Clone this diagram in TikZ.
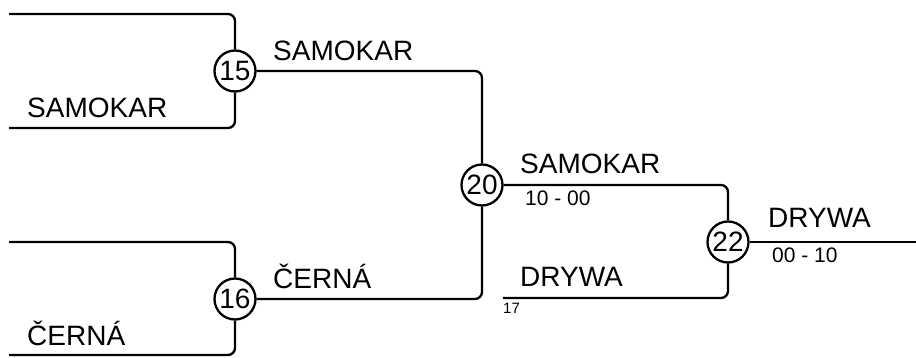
\documentclass[tikz,border=0pt]{standalone}
\usepackage{fontspec}
\setmainfont{Liberation Sans}
\begin{document}
\begin{tikzpicture}[x=1pt,y=-1pt,
  wire/.style={line width=2.3pt,rounded corners=7pt},
  match/.style={circle,draw,line width=2.3pt,minimum size=41pt,inner sep=0pt,font=\fontsize{28}{28}\selectfont},
  team/.style={anchor=base west,inner sep=0pt,font=\fontsize{28}{28}\selectfont},
  score/.style={anchor=base west,inner sep=0pt,font=\fontsize{21}{21}\selectfont},
  seed/.style={anchor=base west,inner sep=0pt,font=\fontsize{15}{15}\selectfont}]
\useasboundingbox (0,0) rectangle (916,358);
\node[match] (m15) at (235,71) {15};
\node[match] (m16) at (235,299) {16};
\node[match] (m20) at (482,185) {20};
\node[match] (m22) at (728,242) {22};
\coordinate (a15) at (9,14);
\coordinate (b15) at (9,128);
\coordinate (a16) at (9,242);
\coordinate (b16) at (9,355);
\coordinate (c17) at (503,298);
\coordinate (out) at (916,242);
\draw[wire] (a15) -| (m15);
\draw[wire] (b15) -| (m15);
\draw[wire] (a16) -| (m16);
\draw[wire] (b16) -| (m16);
\draw[wire] (m15) -| (m20);
\draw[wire] (m16) -| (m20);
\draw[wire] (m20) -| (m22);
\draw[wire] (c17) -| (m22);
\draw[wire] (m22) -- (out);
\node[team] (t1) at (27,118) {SAMOKAR};
\node[team] (t2) at (273,61) {SAMOKAR};
\node[team] (t3) at (273,288) {ČERNÁ};
\node[team] (t4) at (27,345) {ČERNÁ};
\node[team] (t5) at (520,174) {SAMOKAR};
\node[score] (s1) at (525,206) {10 - 00};
\node[team] (t6) at (520,287) {DRYWA};
\node[seed] (s17) at (503,313) {17};
\node[team] (t7) at (768,228) {DRYWA};
\node[score] (s2) at (772,263) {00 - 10};
\end{tikzpicture}
\end{document}
